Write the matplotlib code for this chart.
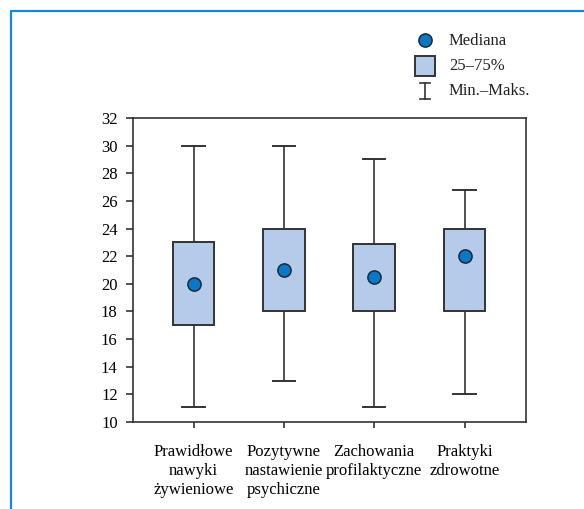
import matplotlib
matplotlib.use("Agg")
import matplotlib.pyplot as plt
from matplotlib.patches import Rectangle
from matplotlib.lines import Line2D

plt.rcParams['font.family'] = ['Liberation Serif', 'DejaVu Serif']

categories = ["Prawidłowe\nnawyki\nżywieniowe", "Pozytywne\nnastawienie\npsychiczne",
              "Zachowania\nprofilaktyczne", "Praktyki\nzdrowotne"]
mins = [11.1, 13.0, 11.1, 12.0]
q1 = [17.0, 18.0, 18.0, 18.0]
medians = [20.0, 21.0, 20.5, 22.0]
q3 = [23.0, 24.0, 22.9, 24.0]
maxs = [30.0, 30.0, 29.0, 26.8]
yticks = [10, 12, 14, 16, 18, 20, 22, 24, 26, 28, 30, 32]

W, H = 584, 509
fig = plt.figure(figsize=(W / 100, H / 100), dpi=100)
ax = fig.add_axes([133 / W, 1 - 422 / H, (526 - 133) / W, (422 - 118) / H])

edge = "#333333"
fill = "#b5cbe9"
dot = "#0a78c6"
box_w = 0.46
cap_w = 0.245

for i in range(len(categories)):
    x = i + 1
    ax.plot([x, x], [mins[i], q1[i]], color=edge, lw=1.2, zorder=2)
    ax.plot([x, x], [q3[i], maxs[i]], color=edge, lw=1.2, zorder=2)
    ax.plot([x - cap_w / 2, x + cap_w / 2], [mins[i], mins[i]], color=edge, lw=1.4, zorder=2)
    ax.plot([x - cap_w / 2, x + cap_w / 2], [maxs[i], maxs[i]], color=edge, lw=1.4, zorder=2)
    ax.add_patch(Rectangle((x - box_w / 2, q1[i]), box_w, q3[i] - q1[i],
                           facecolor=fill, edgecolor=edge, lw=1.4, zorder=3))
    ax.plot(x, medians[i], 'o', ms=9.5, mfc=dot, mec="#1a2a3a", mew=1.1, zorder=4)

ax.set_xlim(0.33, 4.68)
ax.set_ylim(10, 32)
ax.set_yticks(yticks)
ax.set_xticks(range(1, len(categories) + 1))
ax.set_xticklabels(categories, fontsize=12, linespacing=1.25)
ax.tick_params(axis='y', labelsize=12, length=5, width=1.2, color=edge, pad=6)
ax.tick_params(axis='x', length=4, width=1.2, color=edge, pad=12)
for s in ax.spines.values():
    s.set_color(edge)
    s.set_linewidth(1.2)

# legend drawn in figure coordinates
def fx(px):
    return px / W

def fy(py):
    return 1 - py / H

fig.add_artist(Line2D([fx(425)], [fy(40)], marker='o', ms=9.5, mfc=dot, mec="#1a2a3a", mew=1.1))
fig.add_artist(Rectangle((fx(415), fy(76)), 20 / W, 20 / H, facecolor=fill,
                         edgecolor=edge, lw=1.4, transform=fig.transFigure))
fig.add_artist(Line2D([fx(425), fx(425)], [fy(83), fy(99)], color=edge, lw=1.2))
fig.add_artist(Line2D([fx(420), fx(430)], [fy(83), fy(83)], color=edge, lw=1.2))
fig.add_artist(Line2D([fx(420), fx(430)], [fy(99), fy(99)], color=edge, lw=1.2))
for ty, txt in [(41, "Mediana"), (66, "25–75%"), (91, "Min.–Maks.")]:
    fig.text(fx(449), fy(ty), txt, fontsize=12, va='center', ha='left', color="#222222")

# frame line along top and left edges
fig.add_artist(Line2D([fx(10.5), fx(10.5), 1.0], [0.0, fy(10.5), fy(10.5)],
                      color="#1189e0", lw=1.6))

fig.savefig("out.png", dpi=100)
